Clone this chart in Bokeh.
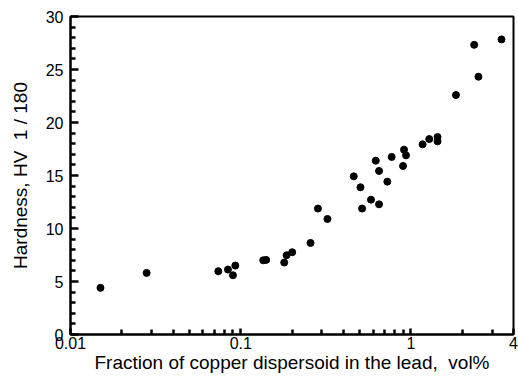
from bokeh.plotting import figure
from bokeh.models import FixedTicker, CustomJSTickFormatter, Range1d
from bokeh.embed import file_html
from bokeh.resources import INLINE

# Data
fraction_vol_pct = [0.015, 0.028, 0.0738, 0.0841, 0.090, 0.0929, 0.1355, 0.141, 0.180, 0.186,
                    0.2005, 0.257, 0.284, 0.323, 0.461, 0.505, 0.516, 0.582, 0.621, 0.649,
                    0.649, 0.726, 0.770, 0.898, 0.910, 0.935, 1.170, 1.280, 1.432, 1.432,
                    1.837, 2.35, 2.49, 3.40]
hardness_hv = [4.40, 5.81, 5.97, 6.13, 5.59, 6.50, 7.00, 7.04, 6.79, 7.48,
               7.76, 8.64, 11.88, 10.90, 14.92, 13.89, 11.88, 12.72, 16.40, 15.43,
               12.28, 14.42, 16.75, 15.90, 17.44, 16.90, 17.94, 18.44, 18.63, 18.22,
               22.59, 27.33, 24.32, 27.84]

x_major_ticks = [0.01, 0.1, 1, 4]
x_minor_ticks = [0.02, 0.03, 0.04, 0.05, 0.06, 0.07, 0.08, 0.09,
                 0.2, 0.3, 0.4, 0.5, 0.6, 0.7, 0.8, 0.9, 2, 3]
y_major_ticks = [0, 5, 10, 15, 20, 25, 30]
y_minor_ticks = [v for v in range(0, 31) if v % 5 != 0]

p = figure(width=518, height=381, x_axis_type="log",
           x_range=Range1d(0.01, 4), y_range=Range1d(0, 30),
           output_backend="svg", toolbar_location=None,
           min_border_left=70, min_border_right=5, min_border_top=16, min_border_bottom=47)

p.scatter(fraction_vol_pct, hardness_hv, size=7, color="black")

p.xgrid.visible = False
p.ygrid.visible = False
p.outline_line_color = "black"
p.outline_line_width = 2
p.outline_line_alpha = 1.0
p.background_fill_color = "white"
p.border_fill_color = "white"

font = "Liberation Sans"

p.xaxis.ticker = FixedTicker(ticks=x_major_ticks, minor_ticks=x_minor_ticks)
p.xaxis.formatter = CustomJSTickFormatter(code="return tick.toString();")
p.yaxis.ticker = FixedTicker(ticks=y_major_ticks, minor_ticks=y_minor_ticks)

for ax in (p.xaxis[0], p.yaxis[0]):
    ax.axis_line_color = "black"
    ax.axis_line_width = 2
    ax.major_tick_out = 0
    ax.minor_tick_out = 0
    ax.major_tick_line_width = 2.5
    ax.minor_tick_line_width = 2.5
    ax.major_tick_line_color = "black"
    ax.minor_tick_line_color = "black"
    ax.major_label_text_font = font
    ax.major_label_text_font_size = "16px"
    ax.major_label_text_color = "black"
    ax.axis_label_text_font = font
    ax.axis_label_text_font_size = "19px"
    ax.axis_label_text_font_style = "normal"
    ax.axis_label_text_color = "black"

p.yaxis.major_tick_in = 8
p.yaxis.minor_tick_in = 5
p.xaxis.major_tick_in = 6
p.xaxis.minor_tick_in = 5

p.xaxis.axis_label = "Fraction of copper dispersoid in the lead, \u00a0vol%"
p.yaxis.axis_label = "Hardness, HV \u00a01 / 180"
p.xaxis.major_label_standoff = 2
p.xaxis.axis_label_standoff = 0
p.yaxis.major_label_standoff = 7
p.yaxis.axis_label_standoff = 12

open("out.html", "w").write(file_html(p, INLINE))
